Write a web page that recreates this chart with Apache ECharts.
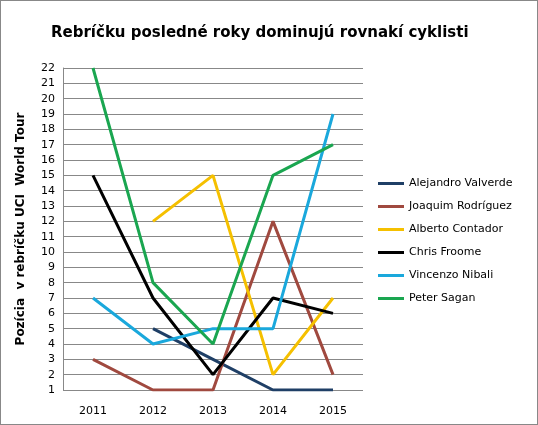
<!DOCTYPE html>
<html><head><meta charset="utf-8">
<script src="https://cdn.jsdelivr.net/npm/echarts@6/dist/echarts.min.js"></script>
<style>html,body{margin:0;padding:0;}#c{width:536px;height:423px;border:1px solid #888;}</style>
</head><body><div id="c"></div>
<script>
const years = ['2011','2012','2013','2014','2015'];
const valverde = [null,5,3,1,1];
const rodriguez = [3,1,1,12,2];
const contador = [null,12,15,2,7];
const froome = [15,7,2,7,6];
const nibali = [7,4,5,5,19];
const sagan = [22,8,4,15,17];
const names = ['Alejandro Valverde','Joaquim Rodríguez','Alberto Contador','Chris Froome','Vincenzo Nibali','Peter Sagan'];
const colors = ['#1f3f66','#a0493f','#f5c000','#000000','#1aa8dc','#1aa650'];
const data = [valverde,rodriguez,contador,froome,nibali,sagan];
const chart = echarts.init(document.getElementById('c'));
chart.setOption({
  animation:false,
  textStyle:{fontFamily:'DejaVu Sans'},
  title:{text:'Rebríčku posledné roky dominujú rovnakí cyklisti',left:45,top:20,textStyle:{fontSize:15,fontWeight:'bold',color:'#000',fontFamily:'DejaVu Sans'}},
  grid:{left:62,right:174,top:67,bottom:34},
  legend:{orient:'vertical',left:372,top:172,itemGap:12,icon:'rect',itemWidth:26,itemHeight:3,
    textStyle:{fontSize:11,color:'#000'},data:names},
  xAxis:{type:'category',data:years,boundaryGap:true,axisLine:{show:false},axisTick:{show:false},
    axisLabel:{fontSize:11,color:'#000',margin:16}},
  yAxis:{type:'value',min:1,max:22,interval:1,name:'Pozícia  v rebríčku UCI  World Tour',nameLocation:'middle',nameGap:36,
    nameTextStyle:{fontSize:12,fontWeight:'bold',color:'#000'},
    axisLine:{show:true,lineStyle:{color:'#888'}},axisTick:{show:false},
    axisLabel:{fontSize:11,color:'#000',margin:8},splitLine:{lineStyle:{color:'#888'}}},
  series:data.map((d,i)=>({name:names[i],type:'line',data:d,symbol:'none',connectNulls:false,
    lineStyle:{width:3,color:colors[i]},itemStyle:{color:colors[i]}}))
});
</script></body></html>
